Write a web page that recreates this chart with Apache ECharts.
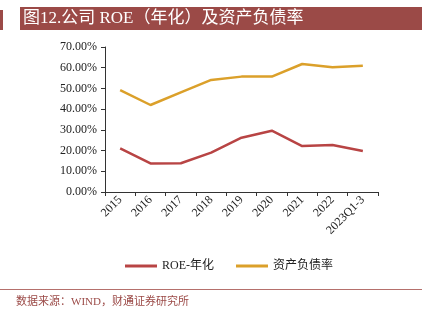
<!DOCTYPE html>
<html><head><meta charset="utf-8">
<script src="https://cdn.jsdelivr.net/npm/echarts@6/dist/echarts.min.js"></script>
<style>html,body{margin:0;padding:0;background:#fff}#c{width:436px;height:323px}</style>
</head><body><div id="c"></div>
<script>
const categories = ['2015','2016','2017','2018','2019','2020','2021','2022','2023Q1-3'];
const roe = [21.1, 13.8, 13.9, 19.0, 26.2, 29.6, 22.2, 22.7, 19.8];
const debtRatio = [49.2, 42.0, 48.1, 54.1, 55.7, 55.7, 61.8, 60.2, 61.0];
const seriesNames = ['ROE-年化', '资产负债率'];
const title = '图12.公司 ROE（年化）及资产负债率';
const source = '数据来源：WIND，财通证券研究所';

const serif = '"Liberation Serif","Times New Roman","Noto Sans CJK SC",serif';
const chart = echarts.init(document.getElementById('c'));
chart.setOption({
  animation: false,
  grid: {left: 105, right: 58, top: 47, bottom: 131},
  graphic: [
    {type:'rect', shape:{x:0,y:10,width:3,height:20}, style:{fill:'#9B4A47'}},
    {type:'rect', shape:{x:20,y:7,width:402,height:23}, style:{fill:'#9B4A47'}},
    {type:'text', left:23, top:10, style:{text:title, fill:'#fff', font:'17px '+serif}},
    {type:'rect', shape:{x:0,y:289,width:422,height:1}, style:{fill:'#B5706C'}},
    {type:'text', left:16, top:297, style:{text:source, fill:'#9B4A47', font:'11px '+serif}}
  ],
  legend: {
    bottom: 46, left: 120, itemWidth: 32, itemHeight: 3, itemGap: 22,
    icon: 'rect',
    textStyle: {fontFamily: serif, fontSize: 12, color: '#222'},
    data: seriesNames
  },
  xAxis: {
    type: 'category', data: categories, boundaryGap: true,
    axisLine: {lineStyle: {color: '#333'}},
    axisTick: {show: true, length: 4, lineStyle:{color:'#333'}},
    axisLabel: {rotate: 45, fontFamily: serif, fontSize: 12, color: '#222', margin: 6, interval: 0}
  },
  yAxis: {
    type: 'value', min: 0, max: 70, interval: 10,
    splitLine: {show: false},
    axisLine: {show: true, lineStyle: {color: '#333'}},
    axisTick: {show: true, inside: false, length: 4, lineStyle:{color:'#333'}},
    axisLabel: {formatter: v => v.toFixed(2) + '%', fontFamily: serif, fontSize: 12, color: '#222', margin: 8}
  },
  series: [
    {name: seriesNames[0], type: 'line', data: roe, symbol: 'none', lineStyle: {width: 2.5, color: '#B84444'}, itemStyle: {color: '#B84444'}},
    {name: seriesNames[1], type: 'line', data: debtRatio, symbol: 'none', lineStyle: {width: 2.5, color: '#DBA02A'}, itemStyle: {color: '#DBA02A'}}
  ]
});
</script></body></html>
